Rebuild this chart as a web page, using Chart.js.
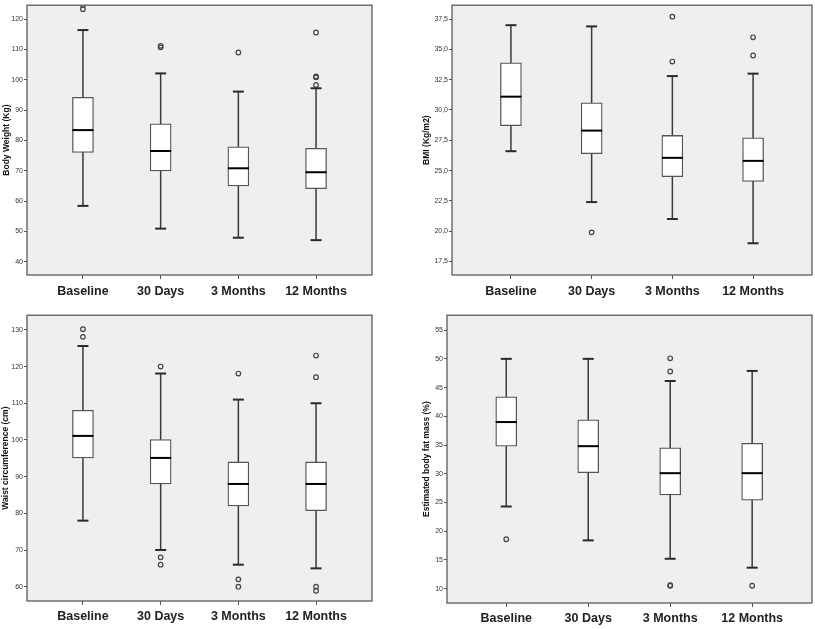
<!DOCTYPE html>
<html>
<head>
<meta charset="utf-8">
<script src="https://cdn.jsdelivr.net/npm/chart.js@4.4.0/dist/chart.umd.min.js"></script>
<style>
  body { margin: 0; background: #fff; width: 815px; height: 629px; position: relative; overflow: hidden; }
  .panel { position: absolute; }
</style>
</head>
<body>
<div class="panel" style="left:0;top:0;width:405px;height:310px"><canvas id="weight"></canvas></div>
<div class="panel" style="left:410px;top:0;width:405px;height:310px"><canvas id="bmi"></canvas></div>
<div class="panel" style="left:0;top:310px;width:405px;height:319px"><canvas id="waist"></canvas></div>
<div class="panel" style="left:410px;top:310px;width:405px;height:319px"><canvas id="fat"></canvas></div>
<script>
const categories = ['Baseline', '30 Days', '3 Months', '12 Months'];

// Body Weight (Kg)
const weightLow = [58.4, 50.9, 47.9, 47.1];
const weightQ1 = [76.0, 69.9, 65.0, 64.1];
const weightMed = [83.4, 76.5, 70.8, 69.5];
const weightQ3 = [94.2, 85.5, 77.9, 77.4];
const weightHigh = [116.4, 102.1, 96.1, 97.2];
const weightOut = [[123.3, 124.6], [110.7, 111.2], [109.0], [115.6, 101.1, 100.8, 98.3]];
const weightTicks = [40, 50, 60, 70, 80, 90, 100, 110, 120];

// BMI (Kg/m2)
const bmiLow = [26.6, 22.4, 21.0, 19.0];
const bmiQ1 = [28.7, 26.4, 24.5, 24.1];
const bmiMed = [31.1, 28.3, 26.05, 25.8];
const bmiQ3 = [33.9, 30.6, 27.9, 27.7];
const bmiHigh = [37.0, 36.9, 32.8, 33.0];
const bmiOut = [[], [19.9], [37.7, 34.0], [36.0, 34.5]];
const bmiTicks = [17.5, 20, 22.5, 25, 27.5, 30, 32.5, 35, 37.5];

// Waist circumference (cm)
const waistLow = [78.0, 70.0, 66.0, 65.0];
const waistQ1 = [95.1, 88.0, 82.0, 80.7];
const waistMed = [101.1, 95.1, 88.0, 88.0];
const waistQ3 = [108.1, 100.1, 94.0, 94.0];
const waistHigh = [125.6, 118.1, 111.0, 110.0];
const waistOut = [[130.2, 128.1], [120.0, 68.0, 66.0], [118.1, 62.0, 60.0], [123.0, 117.1, 60.0, 58.9]];
const waistTicks = [60, 70, 80, 90, 100, 110, 120, 130];

// Estimated body fat mass (%)
const fatLow = [24.3, 18.4, 15.2, 13.65];
const fatQ1 = [34.8, 30.2, 26.3, 25.4];
const fatMed = [39.0, 34.8, 30.1, 30.1];
const fatQ3 = [43.4, 39.4, 34.5, 35.3];
const fatHigh = [50.0, 50.0, 46.15, 47.9];
const fatOut = [[18.6], [], [50.1, 47.8, 10.6, 10.5], [10.5]];
const fatTicks = [10, 15, 20, 25, 30, 35, 40, 45, 50, 55];

const BOX_W = 21;
const CAP_W = 11;

function boxPlot(id, s, lay) {
  // fondo gris y marco del area de dibujo
  const frame = {
    id: 'frame',
    beforeDraw(chart) {
      const { ctx, chartArea: a } = chart;
      ctx.save();
      ctx.fillStyle = '#efefef';
      ctx.fillRect(a.left, a.top, a.right - a.left, a.bottom - a.top);
      ctx.restore();
    },
    afterDraw(chart) {
      const { ctx, chartArea: a } = chart;
      ctx.save();
      ctx.strokeStyle = '#5a5a5a';
      ctx.lineWidth = 1.3;
      ctx.strokeRect(a.left, a.top, a.right - a.left, a.bottom - a.top);
      ctx.restore();
    }
  };

  // bigotes, topes y mediana
  const whiskers = {
    id: 'whiskers',
    beforeDatasetsDraw(chart) {
      const { ctx, scales: { x, y } } = chart;
      ctx.save();
      ctx.strokeStyle = '#3a3a3a';
      ctx.lineWidth = 1.5;
      categories.forEach((c, i) => {
        const px = x.getPixelForValue(i);
        ctx.beginPath();
        ctx.moveTo(px, y.getPixelForValue(s.low[i]));
        ctx.lineTo(px, y.getPixelForValue(s.high[i]));
        ctx.stroke();
      });
      ctx.restore();
    },
    afterDatasetsDraw(chart) {
      const { ctx, scales: { x, y } } = chart;
      ctx.save();
      categories.forEach((c, i) => {
        const px = x.getPixelForValue(i);
        ctx.strokeStyle = '#2a2a2a';
        ctx.lineWidth = 2;
        [s.low[i], s.high[i]].forEach(v => {
          const py = y.getPixelForValue(v);
          ctx.beginPath();
          ctx.moveTo(px - CAP_W / 2, py);
          ctx.lineTo(px + CAP_W / 2, py);
          ctx.stroke();
        });
        ctx.strokeStyle = '#000';
        const pm = y.getPixelForValue(s.med[i]);
        ctx.beginPath();
        ctx.moveTo(px - BOX_W / 2, pm);
        ctx.lineTo(px + BOX_W / 2, pm);
        ctx.stroke();
      });
      ctx.restore();
    }
  };

  return new Chart(document.getElementById(id), {
    type: 'bar',
    data: {
      datasets: [{
        type: 'bar',
        data: categories.map((c, i) => ({ x: i, y: [s.q1[i], s.q3[i]] })),
        backgroundColor: '#ffffff',
        borderColor: '#555555',
        borderWidth: 1.3,
        borderSkipped: false,
        barThickness: BOX_W
      }, {
        type: 'scatter',
        data: s.out.flatMap((vals, i) => vals.map(v => ({ x: i, y: v }))),
        pointStyle: 'circle',
        pointRadius: 2.3,
        borderWidth: 1.2,
        borderColor: '#444444',
        backgroundColor: 'rgba(0,0,0,0)'
      }]
    },
    options: {
      responsive: true,
      maintainAspectRatio: false,
      animation: false,
      layout: { autoPadding: false, padding: { left: 0, top: lay.top, right: lay.right, bottom: 0 } },
      plugins: { legend: { display: false }, tooltip: { enabled: false } },
      scales: {
        x: {
          type: 'linear',
          offset: false,
          min: lay.xmin,
          max: lay.xmax,
          afterBuildTicks: sc => { sc.ticks = categories.map((c, i) => ({ value: i })); },
          afterFit: sc => { sc.height = lay.xh; },
          grid: { offset: false, drawOnChartArea: false, drawTicks: true, tickLength: 4, color: '#555' },
          border: { display: false },
          ticks: {
            callback: v => categories[v],
            font: { family: 'Liberation Sans', weight: 'bold', size: 12.5 },
            color: '#222',
            padding: lay.xpad,
            maxRotation: 0,
            autoSkip: false
          }
        },
        y: {
          min: lay.ymin,
          max: lay.ymax,
          afterBuildTicks: sc => { sc.ticks = s.ticks.map(v => ({ value: v })); },
          afterFit: sc => { sc.width = lay.yw; },
          grid: { drawOnChartArea: false, drawTicks: true, tickLength: 3, color: '#555' },
          border: { display: false },
          ticks: {
            callback: s.fmt,
            font: { family: 'Liberation Sans', size: 7 },
            color: '#333',
            padding: 1,
            autoSkip: false
          },
          title: {
            display: true,
            text: s.title,
            font: { family: 'Liberation Sans', weight: 'bold', size: 8.5 },
            color: '#111',
            padding: { top: lay.tp, bottom: 0 }
          }
        }
      }
    },
    plugins: [frame, whiskers]
  });
}

const intFmt = v => String(v);
const commaFmt = v => v.toFixed(1).replace('.', ',');

boxPlot('weight', {
  low: weightLow, q1: weightQ1, med: weightMed, q3: weightQ3, high: weightHigh,
  out: weightOut, ticks: weightTicks, fmt: intFmt, title: 'Body Weight (Kg)'
}, { top: 3, right: 33, yw: 27, xh: 35, xpad: 5, tp: 2, xmin: -0.72, xmax: 3.72, ymin: 35.6, ymax: 124.6 });

boxPlot('bmi', {
  low: bmiLow, q1: bmiQ1, med: bmiMed, q3: bmiQ3, high: bmiHigh,
  out: bmiOut, ticks: bmiTicks, fmt: commaFmt, title: 'BMI (Kg/m2)'
}, { top: 3, right: 3, yw: 42, xh: 35, xpad: 5, tp: 12, xmin: -0.73, xmax: 3.73, ymin: 16.38, ymax: 38.65 });

boxPlot('waist', {
  low: waistLow, q1: waistQ1, med: waistMed, q3: waistQ3, high: waistHigh,
  out: waistOut, ticks: waistTicks, fmt: intFmt, title: 'Waist circumference (cm)'
}, { top: 4, right: 33, yw: 27, xh: 28, xpad: 4, tp: 1, xmin: -0.72, xmax: 3.72, ymin: 56.1, ymax: 134 });

boxPlot('fat', {
  low: fatLow, q1: fatQ1, med: fatMed, q3: fatQ3, high: fatHigh,
  out: fatOut, ticks: fatTicks, fmt: intFmt, title: 'Estimated body fat mass (%)'
}, { top: 4, right: 3, yw: 37, xh: 26, xpad: 4, tp: 12, xmin: -0.723, xmax: 3.73, ymin: 7.5, ymax: 57.6 });
</script>
</body>
</html>
